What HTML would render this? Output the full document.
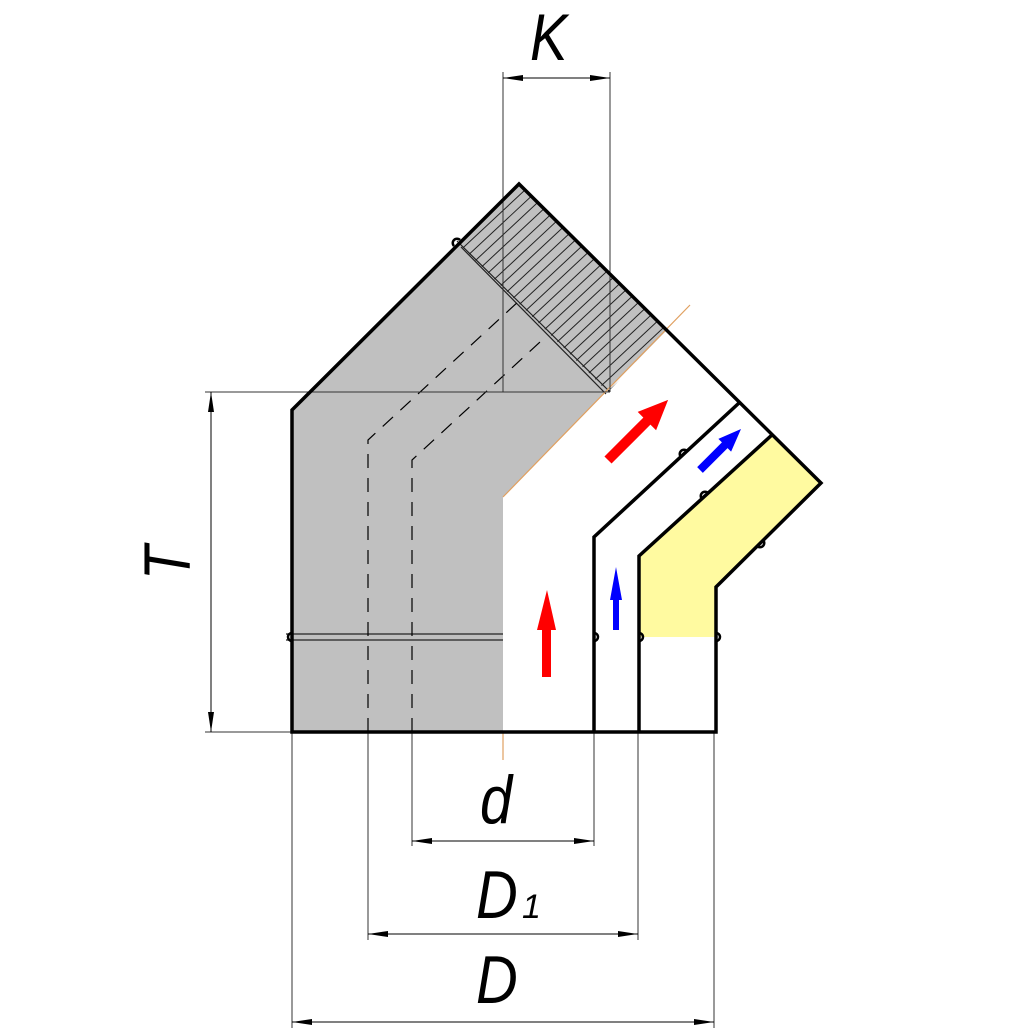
<!DOCTYPE html>
<html><head><meta charset="utf-8"><style>
html,body{margin:0;padding:0;background:#fff;}
svg{display:block}
text{font-family:"Liberation Sans",sans-serif;font-style:italic;fill:#000}
</style></head><body>
<svg width="1030" height="1030" viewBox="0 0 1030 1030" xmlns="http://www.w3.org/2000/svg">
<defs>
<clipPath id="hc"><polygon points="461,246 519,184 666,331 608,392"/></clipPath>
<clipPath id="gc"><polygon points="292,410 519,184 666,331 503,497 503,732 292,732"/></clipPath>
<marker id="ar" viewBox="0 0 20 6" refX="20" refY="3" markerWidth="20" markerHeight="6" orient="auto" markerUnits="userSpaceOnUse"><path d="M0,0 L20,3 L0,6 Z" fill="#000"/></marker>
</defs>
<polygon points="292,410 519,184 666,331 503,497 503,732 292,732" fill="#c0c0c0"/>
<g clip-path="url(#hc)" stroke="#222" stroke-width="1">
<path d="M300,400 l300,-280 M313,400 l300,-280 M326,400 l300,-280 M339,400 l300,-280 M352,400 l300,-280 M365,400 l300,-280 M378,400 l300,-280 M391,400 l300,-280 M404,400 l300,-280 M417,400 l300,-280 M430,400 l300,-280 M443,400 l300,-280 M456,400 l300,-280 M469,400 l300,-280 M482,400 l300,-280 M495,400 l300,-280 M508,400 l300,-280 M521,400 l300,-280 M534,400 l300,-280 M547,400 l300,-280 M560,400 l300,-280 M573,400 l300,-280 M586,400 l300,-280 M599,400 l300,-280"/>
</g>
<polygon points="639,556 773,434 821,483 716,587 716,637 639,637" fill="#fffaa0"/>
<path d="M457,241 L610,392 M461,247 L606,394" stroke="#222" stroke-width="1.2" fill="none"/>
<path d="M286,634 H503 M286,640 H503" stroke="#222" stroke-width="1.2" fill="none"/>
<path d="M503,497 L690,305" stroke="#e0a060" stroke-width="1.2"/>
<path d="M503,732 V760" stroke="#e0a060" stroke-width="1.2"/>
<g clip-path="url(#gc)" stroke="#000" stroke-width="1.2" stroke-dasharray="14,10" fill="none">
<path d="M368,732 V440 L520,300"/>
<path d="M412,732 V460 L540,342"/>
</g>
<g stroke="#333" stroke-width="1" fill="none">
<path d="M205,392 H610 M205,732 H292"/>
<path d="M503,72 V392 M610,72 V392"/>
<path d="M292,732 V1028 M368,732 V940 M412,732 V846 M594,732 V846 M638,732 V940 M714,732 V1028"/>
<path d="M211,412 V712"/>
</g>
<g stroke="#000" stroke-width="1" fill="none">
<path d="M211,552 V392" marker-end="url(#ar)"/><path d="M211,552 V732" marker-end="url(#ar)"/>
<path d="M556,78 H503" marker-end="url(#ar)"/><path d="M556,78 H610" marker-end="url(#ar)"/>
<path d="M503,841 H412" marker-end="url(#ar)"/><path d="M503,841 H594" marker-end="url(#ar)"/>
<path d="M503,934 H368" marker-end="url(#ar)"/><path d="M503,934 H638" marker-end="url(#ar)"/>
<path d="M503,1022 H292" marker-end="url(#ar)"/><path d="M503,1022 H714" marker-end="url(#ar)"/>
</g>
<g stroke="#000" stroke-width="3.5" fill="none" stroke-linejoin="miter">
<path d="M292,732 V410 L519,184 L821,483 L716,587 V732 Z"/>
<path d="M594,732 V537 L739,403"/>
<path d="M639,732 V556 L773,434"/>
</g>
<g stroke="#000" stroke-width="2.5" fill="none">
<path d="M292,633 a4,4 0 0 0 0,8"/>
<path d="M594,633 a4,4 0 0 1 0,8"/>
<path d="M639,633 a4,4 0 0 1 0,8"/>
<path d="M716,633 a4,4 0 0 1 0,8"/>
<path d="M454,246 a4,4 0 0 1 6,-6"/>
<path d="M681,457 a4,4 0 0 1 6,-6"/>
<path d="M702,499 a4,4 0 0 1 6,-6"/>
<path d="M757,546 a4,4 0 0 0 6,-6"/>
</g>
<polygon points="547,590 556,630 551,630 551,677 542,677 542,630 537,630" fill="#f00"/>
<polygon points="616,567 622,600 619,600 619,630 613,630 613,600 610,600" fill="#00f"/>
<g transform="translate(608,460) rotate(-45)">
<polygon points="0,-5 55,-5 55,-13 85,0 55,13 55,5 0,5" fill="#f00"/>
</g>
<g transform="translate(700,470) rotate(-45)">
<polygon points="0,-4 35,-4 35,-9 58,0 35,9 35,4 0,4" fill="#00f"/>
</g>
<text transform="translate(530,60) scale(0.85,1)" font-size="66">K</text>
<text transform="translate(190,580) rotate(-90) scale(0.85,1)" font-size="66">T</text>
<text transform="translate(480,823) scale(0.85,1)" font-size="68">d</text>
<text transform="translate(476,918) scale(0.85,1)" font-size="68">D</text>
<text x="522" y="918" font-size="34">1</text>
<text transform="translate(476,1003) scale(0.85,1)" font-size="68">D</text>
</svg>
</body></html>
